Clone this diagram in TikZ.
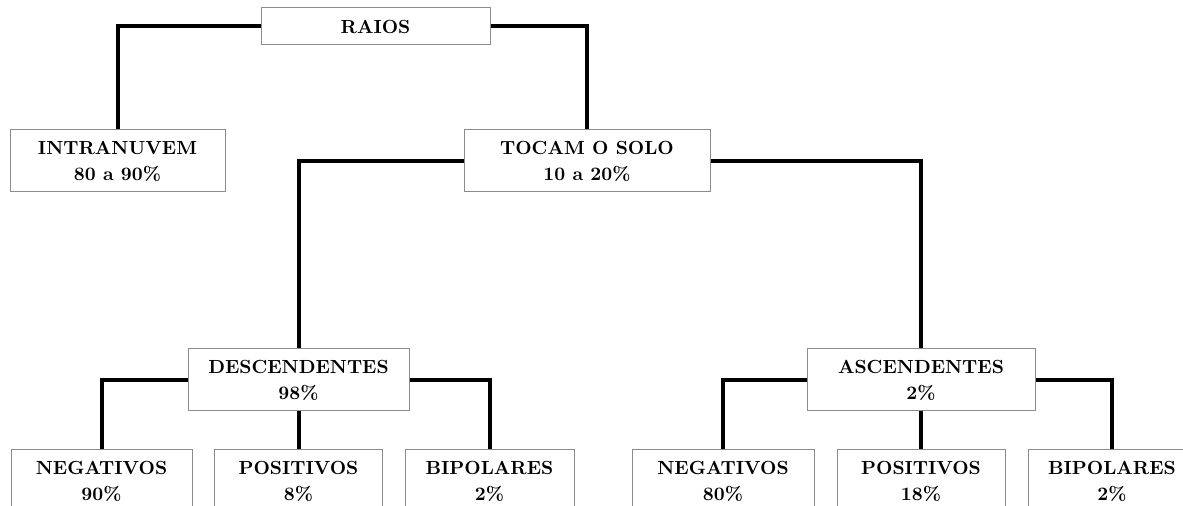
\documentclass[tikz,border=0pt]{standalone}
\usepackage{tikz}
\usetikzlibrary{positioning}
\tikzset{
    raiobox/.style={rectangle,draw=black!45,line width=0.5pt,fill=white,align=center,inner sep=0pt,font=\fontsize{9.5}{13}\selectfont\bfseries,minimum height=31pt},
    raioline/.style={line width=2pt}
}

\begin{document}
\begin{tikzpicture}[x=0.5pt,y=-0.5pt]
        \fill[white] (0,0) rectangle (1183,506);
        \useasboundingbox (0,0) rectangle (1183,506);
        % nivel 1 e 2
        \node[raiobox,minimum width=114.5pt,minimum height=18.5pt] (raios) at (375.5,26.5) {RAIOS};
        \node[raiobox,minimum width=107.5pt] (intra) at (117.5,161) {INTRANUVEM\\80 a 90\%};
        \node[raiobox,minimum width=123pt] (tocam) at (587,161) {TOCAM O SOLO\\10 a 20\%};
        % nivel 3
        \node[raiobox,minimum width=110.5pt] (desc) at (298.5,380) {DESCENDENTES\\98\%};
        \node[raiobox,minimum width=114pt] (asc) at (921,380) {ASCENDENTES\\2\%};
        % nivel 4
        \node[raiobox,minimum width=90.5pt] (dneg) at (101.5,481) {NEGATIVOS\\90\%};
        \node[raiobox,minimum width=84pt] (dpos) at (298.5,481) {POSITIVOS\\8\%};
        \node[raiobox,minimum width=84.5pt] (dbip) at (489.5,481) {BIPOLARES\\2\%};
        \node[raiobox,minimum width=91pt] (aneg) at (723,481) {NEGATIVOS\\80\%};
        \node[raiobox,minimum width=84pt] (apos) at (921,481) {POSITIVOS\\18\%};
        \node[raiobox,minimum width=84pt] (abip) at (1112,481) {BIPOLARES\\2\%};
        \draw[raioline] (raios.west) -| (intra.north);
        \draw[raioline] (raios.east) -| (tocam.north);
        \draw[raioline] (tocam.west) -| (desc.north);
        \draw[raioline] (tocam.east) -| (asc.north);
        \draw[raioline] (desc.west) -| (dneg.north);
        \draw[raioline] (desc.south) -- (dpos.north);
        \draw[raioline] (desc.east) -| (dbip.north);
        \draw[raioline] (asc.west) -| (aneg.north);
        \draw[raioline] (asc.south) -- (apos.north);
        \draw[raioline] (asc.east) -| (abip.north);
    \end{tikzpicture}
\end{document}
